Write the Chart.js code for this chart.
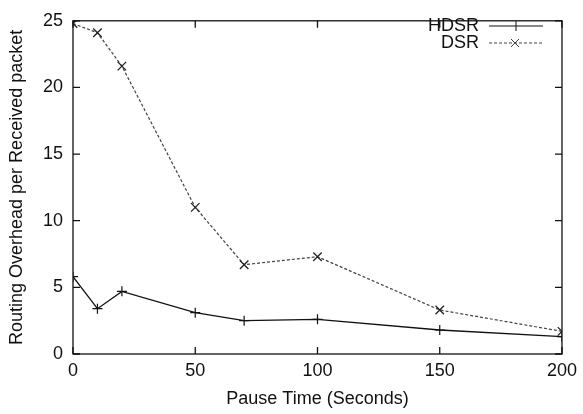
<!DOCTYPE html>
<html>
<head>
<meta charset="utf-8">
<script src="https://cdn.jsdelivr.net/npm/chart.js@4"></script>
<style>
  html, body { margin: 0; padding: 0; background: #fff; }
  #wrap { width: 583px; height: 414px; }
</style>
</head>
<body>
<div id="wrap"><canvas id="overheadChart" width="583" height="414"></canvas></div>
<script>
// pause times (seconds)
var pauseTimes = [0, 10, 20, 50, 70, 100, 150, 200];
// routing overhead per received packet
var hdsrValues = [5.8, 3.4, 4.7, 3.1, 2.5, 2.6, 1.8, 1.3];
var dsrValues = [24.8, 24.1, 21.6, 11.0, 6.7, 7.3, 3.3, 1.7];
var xTicks = [0, 50, 100, 150, 200];
var yTicks = [0, 5, 10, 15, 20, 25];
var seriesNames = ["HDSR", "DSR"];

var FONT = '"Liberation Sans", Arial, sans-serif';

function toPoints(vals) {
    return pauseTimes.map(function (t, i) { return { x: t, y: vals[i] }; });
}

// gnuplot style frame, inward mirrored ticks and legend
var framePlugin = {
    id: 'frame',
    afterDatasetsDraw: function (chart) {
        var ctx = chart.ctx, a = chart.chartArea;
        var xs = chart.scales.x, ys = chart.scales.y;
        ctx.save();
        ctx.strokeStyle = '#111';
        ctx.lineWidth = 1.3;
        ctx.strokeRect(a.left, a.top, a.right - a.left, a.bottom - a.top);
        ctx.beginPath();
        xTicks.forEach(function (v) {
            var px = xs.getPixelForValue(v);
            ctx.moveTo(px, a.bottom); ctx.lineTo(px, a.bottom - 7);
            ctx.moveTo(px, a.top); ctx.lineTo(px, a.top + 7);
        });
        yTicks.forEach(function (v) {
            var py = ys.getPixelForValue(v);
            ctx.moveTo(a.left, py); ctx.lineTo(a.left + 7, py);
            ctx.moveTo(a.right, py); ctx.lineTo(a.right - 7, py);
        });
        ctx.stroke();

        // legend
        ctx.font = '18px ' + FONT;
        ctx.fillStyle = '#111';
        ctx.textAlign = 'right';
        ctx.textBaseline = 'middle';
        chart.data.datasets.forEach(function (ds, i) {
            var y = 26 + i * 17;
            ctx.fillText(ds.label, 479, y);
            ctx.strokeStyle = ds.borderColor;
            ctx.lineWidth = 1;
            ctx.setLineDash(ds.borderDash || []);
            ctx.beginPath();
            ctx.moveTo(489, y); ctx.lineTo(543, y);
            ctx.stroke();
            ctx.setLineDash([]);
            ctx.beginPath();
            if (ds.pointStyle === 'cross') {
                ctx.moveTo(516, y - 5); ctx.lineTo(516, y + 5);
            } else {
                ctx.moveTo(511, y - 4); ctx.lineTo(519, y + 4);
                ctx.moveTo(511, y + 4); ctx.lineTo(519, y - 4);
            }
            ctx.stroke();
        });
        ctx.restore();
    }
};

var ctx = document.getElementById('overheadChart').getContext('2d');
new Chart(ctx, {
    type: 'line',
    data: {
        datasets: [
            {
                label: seriesNames[0],
                data: toPoints(hdsrValues),
                borderColor: '#111',
                borderWidth: 1.3,
                pointStyle: 'cross',
                pointRadius: 5,
                pointBorderColor: '#111',
                pointBorderWidth: 1.2,
                fill: false,
                tension: 0
            },
            {
                label: seriesNames[1],
                data: toPoints(dsrValues),
                borderColor: '#444',
                borderWidth: 1.2,
                borderDash: [3, 2],
                pointStyle: 'crossRot',
                pointRadius: 6,
                pointBorderColor: '#222',
                pointBorderWidth: 1.3,
                fill: false,
                tension: 0
            }
        ]
    },
    options: {
        responsive: false,
        animation: false,
        layout: { padding: { top: 11, right: 18, left: 0, bottom: 0 } },
        plugins: {
            legend: { display: false },
            tooltip: { enabled: false }
        },
        scales: {
            x: {
                type: 'linear',
                min: 0, max: 200,
                afterBuildTicks: function (s) { s.ticks = xTicks.map(function (v) { return { value: v }; }); },
                afterFit: function (s) { s.height = 60; },
                grid: { display: false, drawTicks: false },
                border: { display: false },
                ticks: {
                    color: '#111',
                    padding: 6,
                    maxRotation: 0,
                    font: { family: FONT, size: 18 }
                },
                title: {
                    display: true,
                    text: 'Pause Time (Seconds)',
                    color: '#111',
                    padding: { top: 2, bottom: 4 },
                    font: { family: FONT, size: 18 }
                }
            },
            y: {
                min: 0, max: 25,
                afterBuildTicks: function (s) { s.ticks = yTicks.map(function (v) { return { value: v }; }); },
                afterFit: function (s) { s.width = 73; },
                grid: { display: false, drawTicks: false },
                border: { display: false },
                ticks: {
                    color: '#111',
                    padding: 10,
                    font: { family: FONT, size: 18 }
                },
                title: {
                    display: true,
                    text: 'Routing Overhead per Received packet',
                    color: '#111',
                    padding: { top: 6, bottom: 4 },
                    font: { family: FONT, size: 18 }
                }
            }
        }
    },
    plugins: [framePlugin]
});
</script>
</body>
</html>
